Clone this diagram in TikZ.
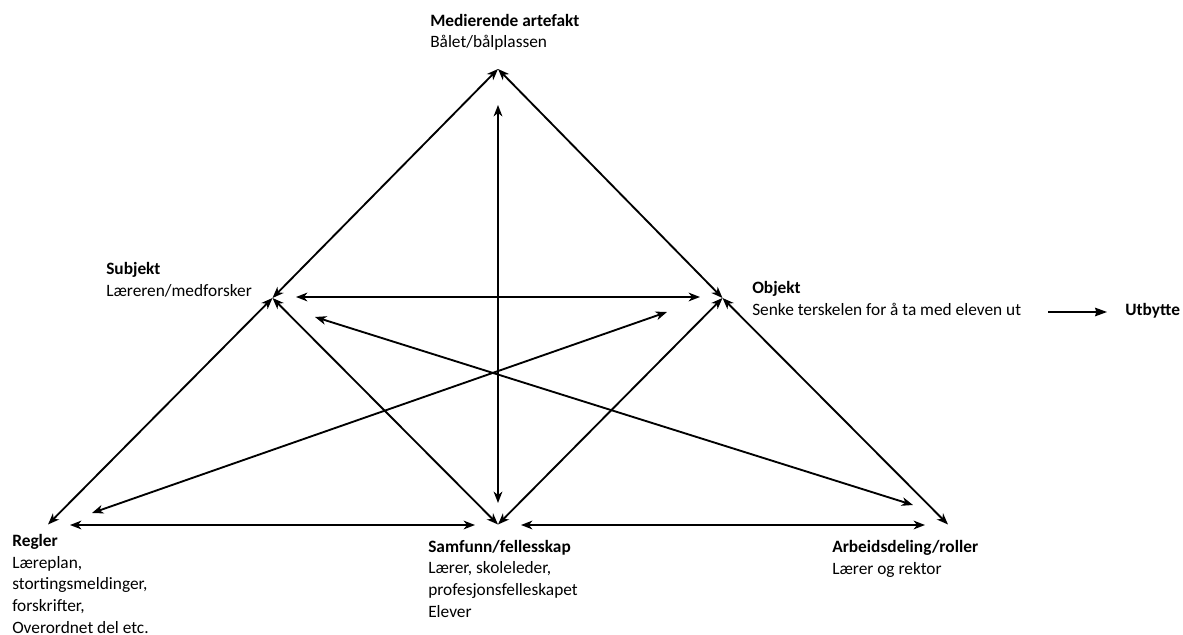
\documentclass[tikz,border=0pt]{standalone}
\usepackage{fontspec}
\setmainfont{Carlito}
\usetikzlibrary{arrows.meta}
\begin{document}
\begin{tikzpicture}[x=0.75pt,y=-0.75pt,
  link/.style={line width=1.4pt, {Stealth[length=8.5pt,width=6.5pt,inset=2.5pt]}-{Stealth[length=8.5pt,width=6.5pt,inset=2.5pt]}},
  lbl/.style={anchor=base west, inner sep=0pt, align=left, font=\fontsize{13}{16.2}\selectfont},
  outarrow/.style={line width=0.9pt, -{Stealth[length=9pt,width=6.5pt,inset=1pt]}}]
\useasboundingbox (0,0) rectangle (1183,635);
% apexes
\coordinate (M) at (498,69);
\coordinate (S) at (272.5,298);
\coordinate (O) at (722.5,298);
\coordinate (R) at (48,524.5);
\coordinate (C) at (498,524.5);
\coordinate (A) at (948,524.5);
% inner end points
\coordinate (v1) at (498,105);
\coordinate (v2) at (498,503);
\coordinate (h1) at (296,297);
\coordinate (h2) at (700,297);
\coordinate (b1) at (70,525);
\coordinate (b2) at (475,525);
\coordinate (b3) at (521,525);
\coordinate (b4) at (925,525);
\coordinate (d1) at (315,317);
\coordinate (d2) at (913,505);
\coordinate (d3) at (667,312);
\coordinate (d4) at (92,513);
\coordinate (u1) at (1048,312);
% labels (anchor = baseline of last line)
\node[lbl] (med) at (430,48) {\textbf{Medierende artefakt}\\Bålet/bålplassen};
\node[lbl] (sub) at (106,296) {\textbf{Subjekt}\\Læreren/medforsker};
\node[lbl] (obj) at (752,315) {\textbf{Objekt}\\Senke terskelen for å ta med eleven ut};
\node[lbl] (utb) at (1125,315) {\textbf{Utbytte}};
\node[lbl] (reg) at (12,633) {\textbf{Regler}\\Læreplan,\\stortingsmeldinger,\\forskrifter,\\Overordnet del etc.};
\node[lbl] (sam) at (428,617) {\textbf{Samfunn/fellesskap}\\Lærer, skoleleder,\\profesjonsfelleskapet\\Elever};
\node[lbl] (arb) at (832,574) {\textbf{Arbeidsdeling/roller}\\Lærer og rektor};
% triangle edges
\draw[link] (S) -- (M);
\draw[link] (M) -- (O);
\draw[link] (R) -- (S);
\draw[link] (S) -- (C);
\draw[link] (C) -- (O);
\draw[link] (O) -- (A);
% inner connectors
\draw[link] (v1) -- (v2);
\draw[link] (h1) -- (h2);
\draw[link] (b1) -- (b2);
\draw[link] (b3) -- (b4);
\draw[link] (d1) -- (d2);
\draw[link] (d3) -- (d4);
% outcome
\draw[outarrow, shorten >=13.5pt] (u1) -- (u1 -| utb.west);
\end{tikzpicture}
\end{document}
